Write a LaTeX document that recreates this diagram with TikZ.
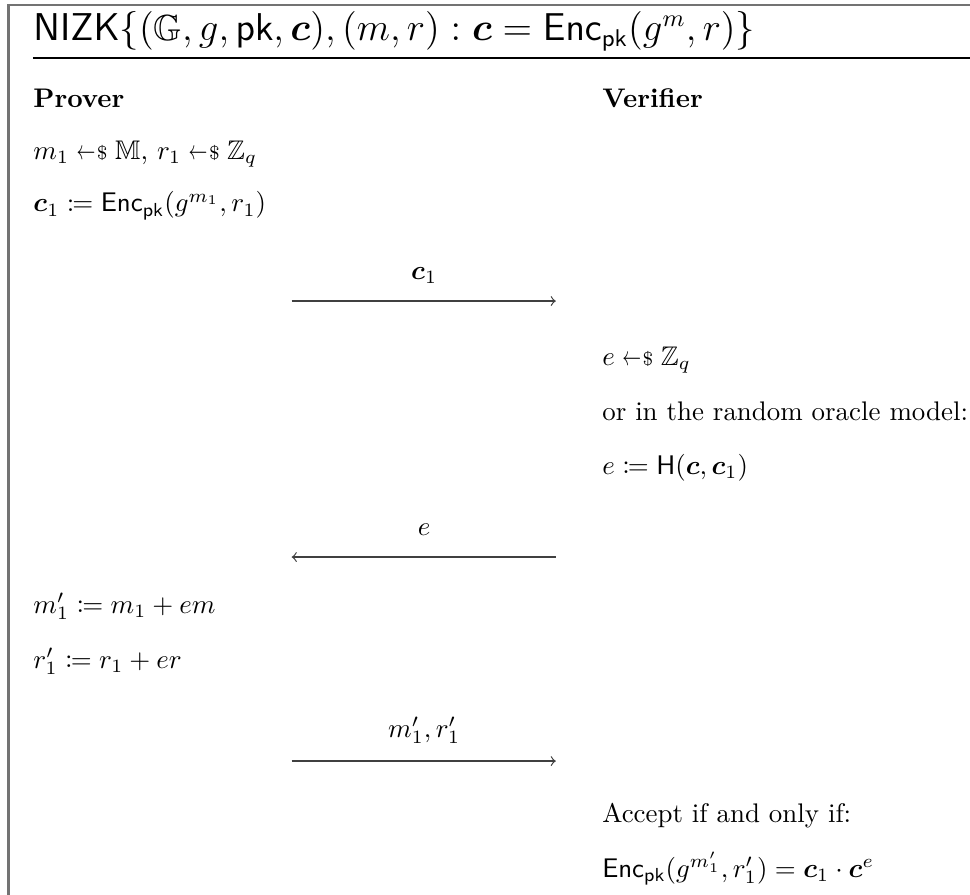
\documentclass[tikz,border=0pt]{standalone}
\usepackage{amsmath,amssymb,bm}
\usepackage{mathtools}
\usepackage{tikz}
\usetikzlibrary{positioning}

\newcommand{\smpl}{\mathrel{\scalebox{0.7}[1]{$\leftarrow$}\mkern1mu{\scriptstyle\$}}}
\newcommand{\Enc}{\mathsf{Enc}_{\mathsf{pk}}}

\begin{document}
\begin{tikzpicture}[
  txt/.style={anchor=base west, inner sep=0pt},
  hdr/.style={txt, font=\bfseries},
  msglbl/.style={anchor=base, inner sep=0pt},
  msg/.style={->, line width=0.45pt, black!75},
  frame/.style={line width=0.8pt, black!55}]
% Canvas
\useasboundingbox (0,0) rectangle (12.67,-11.69);
% Column positions
\def\xP{0.43}
\def\xV{7.86}
\def\aL{3.81}
\def\aR{7.26}
\def\xM{5.54}
% Frame and title
\draw[frame] (0.111,-11.69) -- (0.111,-0.061) -- (12.67,-0.061);
\node[txt, font=\fontsize{13.5}{16}\selectfont] (title) at (\xP,-0.53) {$\mathsf{NIZK}\{(\mathbb{G}, g, \mathsf{pk}, \bm{c}), (m, r) : \bm{c} = \Enc(g^m, r)\}$};
\draw[line width=0.5pt] (\xP,-0.758) -- (12.67,-0.758);
% Parties
\node[hdr] (prover) at (\xP,-1.398) {Prover};
\node[hdr] (verifier) at (\xV,-1.398) {Verifier};
% Prover: commitment
\node[txt] (pick) at (\xP,-2.077) {$m_1 \smpl \mathbb{M}$, $r_1 \smpl \mathbb{Z}_q$};
\node[txt] (commit) at (\xP,-2.769) {$\bm{c}_1 \coloneqq \Enc(g^{m_1}, r_1)$};
% first message
\coordinate (s1) at (\aL,-3.932);
\coordinate (t1) at (\aR,-3.932);
\draw[msg] (s1) -- (t1);
\node[msglbl] (lbl1) at (\xM,-3.645) {$\bm{c}_1$};
% Verifier: challenge
\node[txt] (chal) at (\xV,-4.768) {$e \smpl \mathbb{Z}_q$};
\node[txt] (rom) at (\xV,-5.486) {or in the random oracle model:};
\node[txt] (hash) at (\xV,-6.192) {$e \coloneqq \mathsf{H}(\bm{c}, \bm{c}_1)$};
% second message
\coordinate (s2) at (\aR,-7.276);
\coordinate (t2) at (\aL,-7.276);
\draw[msg] (s2) -- (t2);
\node[msglbl] (lbl2) at (\xM,-6.989) {$e$};
% Prover: response
\node[txt] (resm) at (\xP,-8.008) {$m_1' \coloneqq m_1 + em$};
\node[txt] (resr) at (\xP,-8.726) {$r_1' \coloneqq r_1 + er$};
% third message
\coordinate (s3) at (\aL,-9.941);
\coordinate (t3) at (\aR,-9.941);
\draw[msg] (s3) -- (t3);
\node[msglbl] (lbl3) at (\xM,-9.627) {$m_1', r_1'$};
% Verifier: check
\node[txt] (acc) at (\xV,-10.738) {Accept if and only if:};
\node[txt] (check) at (\xV,-11.456) {$\Enc(g^{m_1'}, r_1') = \bm{c}_1 \cdot \bm{c}^e$};
\end{tikzpicture}
\end{document}
